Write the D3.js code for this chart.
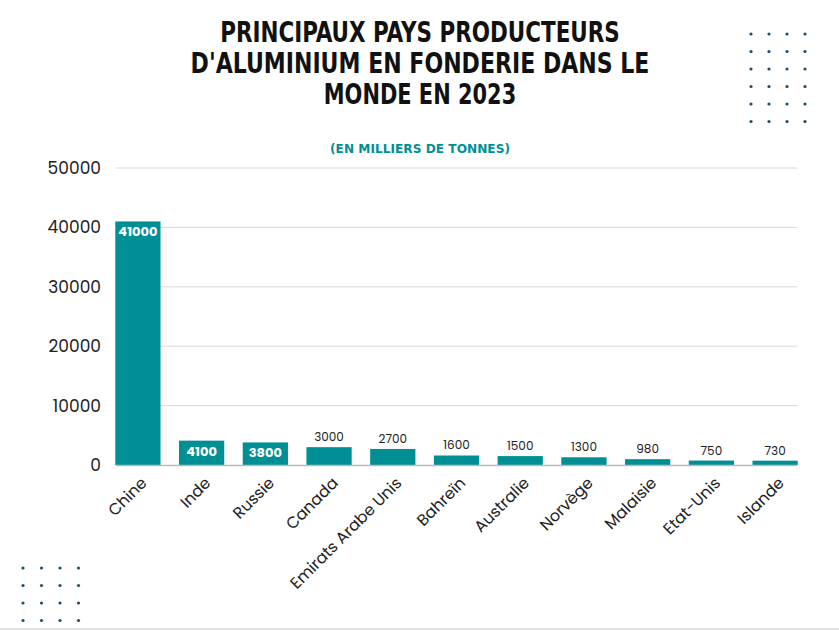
<!DOCTYPE html>
<html><head><meta charset="utf-8">
<script src="https://cdn.jsdelivr.net/npm/d3@7"></script>
<style>body{margin:0;background:#fff}</style>
</head><body>
<svg id="chart" width="839" height="631"></svg>
<script>
const countries = ["Chine","Inde","Russie","Canada","Emirats Arabe Unis","Bahreïn","Australie","Norvège","Malaisie","Etat-Unis","Islande"];
const production = [41000,4100,3800,3000,2700,1600,1500,1300,980,750,730];
const yTicks = [0,10000,20000,30000,40000,50000];
const titleLines = ["PRINCIPAUX PAYS PRODUCTEURS","D'ALUMINIUM EN FONDERIE DANS LE","MONDE EN 2023"];

const svg = d3.select("#chart");
const teal = "#008f94";
const font = "Poppins, 'Noto Sans', sans-serif";

svg.append("rect").attr("width",839).attr("height",631).attr("fill","#fff");

svg.selectAll(".title").data(titleLines).join("text")
  .attr("x",420).attr("y",(d,i)=>42+i*31)
  .attr("text-anchor","middle")
  .style("font-family","'DejaVu Sans', sans-serif").style("font-stretch","condensed")
  .style("font-weight","bold").style("font-size","29px").attr("fill","#111")
  .attr("textLength",d=>d.length*14.8).attr("lengthAdjust","spacingAndGlyphs")
  .text(d=>d);

svg.append("text").attr("x",420).attr("y",153).attr("text-anchor","middle")
  .style("font-family","'DejaVu Sans', sans-serif").style("font-weight","bold")
  .style("font-size","13px").attr("fill",teal)
  .attr("textLength",180).attr("lengthAdjust","spacingAndGlyphs")
  .text("(EN MILLIERS DE TONNES)");

// decorative dots
const dots = (x0,y0,cols,rows,dx,dy) => {
  for (let r=0;r<rows;r++) for (let c=0;c<cols;c++)
    svg.append("circle").attr("cx",x0+c*dx).attr("cy",y0+r*dy).attr("r",1.6).attr("fill","#1d4e6e");
};
dots(751,34,4,6,18,17.5);
dots(23,568,4,4,18.5,17.5);

const x = d3.scaleBand().domain(countries).range([107,806]).paddingInner(0.29).paddingOuter(0.13);
const y = d3.scaleLinear().domain([0,50000]).range([465,168]);

svg.append("g").selectAll("line").data(yTicks.slice(1)).join("line")
  .attr("x1",116).attr("x2",797).attr("y1",d=>y(d)).attr("y2",d=>y(d))
  .attr("stroke","#d8d8d8").attr("stroke-width",1);

svg.append("g").selectAll("text").data(yTicks).join("text")
  .attr("x",101).attr("y",d=>y(d)+6).attr("text-anchor","end")
  .style("font-family",font).style("font-size","17px").attr("fill","#222")
  .text(d=>d);

svg.append("g").selectAll("rect").data(production).join("rect")
  .attr("x",(d,i)=>x(countries[i])).attr("width",x.bandwidth())
  .attr("y",d=>y(d)).attr("height",d=>y(0)-y(d)).attr("fill",teal);

svg.append("line").attr("x1",116).attr("x2",797).attr("y1",465.5).attr("y2",465.5)
  .attr("stroke","#bbb").attr("stroke-width",1.5);

svg.append("g").selectAll("text").data(production).join("text")
  .attr("x",(d,i)=>x(countries[i])+x.bandwidth()/2)
  .attr("y",(d,i)=>i<3 ? y(d)+15 : y(d)-6)
  .attr("text-anchor","middle")
  .style("font-family",font).style("font-size",(d,i)=>i<3?"13px":"12px")
  .style("font-weight",(d,i)=>i<3?"bold":"normal")
  .attr("fill",(d,i)=>i<3?"#fff":"#222")
  .text(d=>d);

svg.append("g").selectAll("text").data(countries).join("text")
  .attr("transform",d=>`translate(${x(d)+x.bandwidth()/2+6},${480}) rotate(-45)`)
  .attr("text-anchor","end").attr("dy","0.35em")
  .style("font-family",font).style("font-size","16px").attr("fill","#222")
  .text(d=>d);

svg.append("line").attr("x1",0).attr("x2",839).attr("y1",629).attr("y2",629)
  .attr("stroke","#e4e4e4").attr("stroke-width",2);
</script>
</body></html>
